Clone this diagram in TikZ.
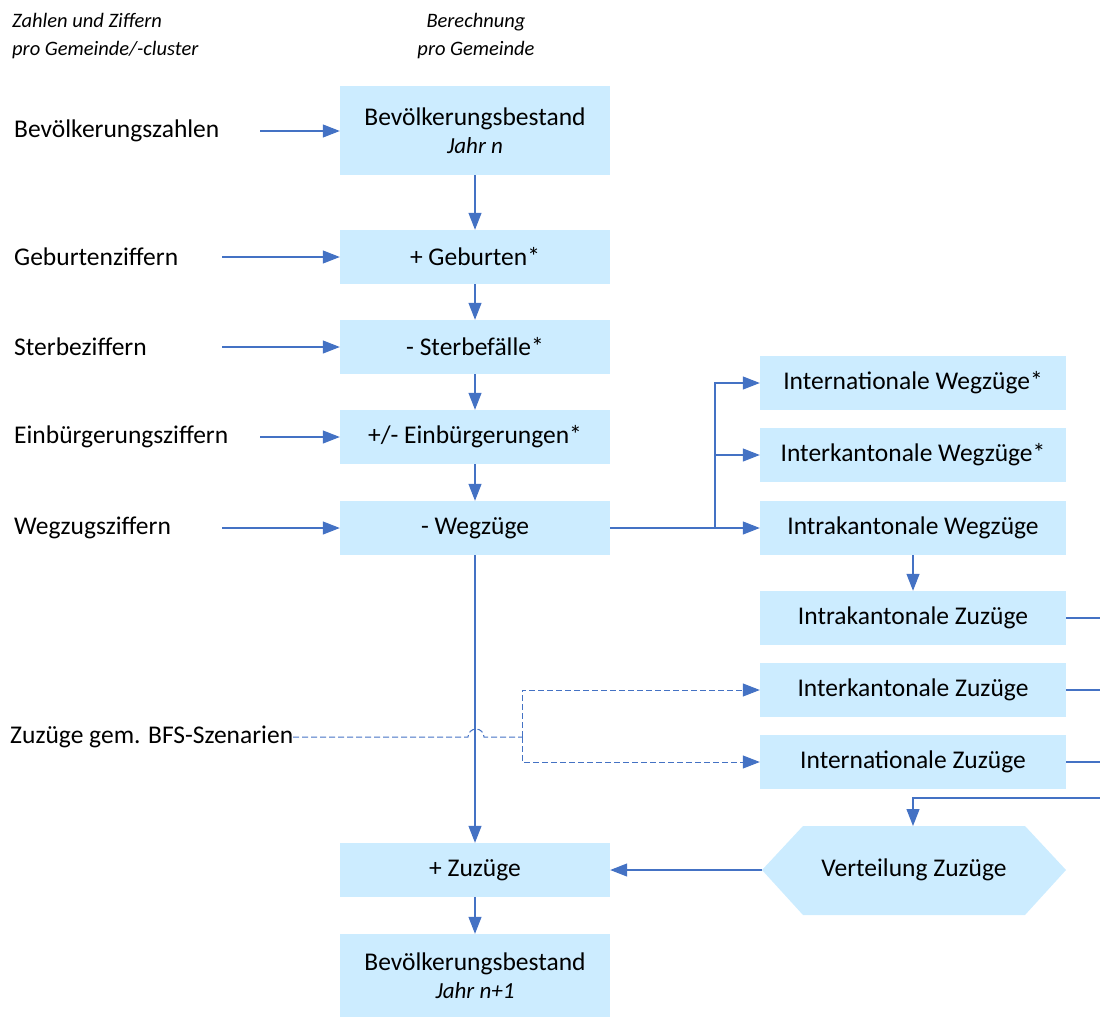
\documentclass[tikz,border=0pt]{standalone}
\usepackage{fontspec}
\setmainfont{Carlito}
\usetikzlibrary{arrows.meta}
\definecolor{boxblue}{HTML}{CCECFF}
\definecolor{lineblue}{HTML}{4472C4}
\newcommand\jahrfont{\fontsize{23}{25}\selectfont\itshape}
\begin{document}
\begin{tikzpicture}[x=1pt,y=-1pt,
  txt/.style={font=\fontsize{25.5}{29}\selectfont},
  box/.style={txt, fill=boxblue, minimum width=270pt, minimum height=54pt, inner sep=0pt, align=center},
  rbox/.style={box, minimum width=306pt},
  lab/.style={txt, anchor=west, inner sep=0pt},
  head/.style={font=\fontsize{20.5}{28}\selectfont\itshape, inner sep=0pt, anchor=north},
  line/.style={draw=lineblue, line width=1.2pt},
  conn/.style={line, -{Triangle[length=17pt,width=13pt]}},
  dline/.style={line, line width=1pt, dash pattern=on 6pt off 3pt},
  dconn/.style={dline, -{Triangle[length=17pt,width=13pt]}}
]
\useasboundingbox (0,0) rectangle (1100,1017);

% headers
\node[head, align=left, anchor=north west] (h1) at (12,13) {Zahlen und Ziffern\\pro Gemeinde/-cluster};
\node[head, align=center] (h2) at (476,13) {Berechnung\\pro Gemeinde};

% central column
\node[box, minimum height=89pt] (b0) at (475,130.5) {Bevölkerungsbestand\\[-1pt]{\jahrfont Jahr n}};
\node[box] (geb) at (475,257) {+ Geburten*};
\node[box] (ster) at (475,347) {- Sterbefälle*};
\node[box] (einb) at (475,437) {+/- Einbürgerungen*};
\node[box] (weg) at (475,528) {- Wegzüge};
\node[box] (zuz) at (475,870) {+ Zuzüge};
\node[box, minimum height=83pt] (b1) at (475,975.5) {Bevölkerungsbestand\\[-1pt]{\jahrfont Jahr n+1}};

% right column
\node[rbox] (iw) at (913,383) {Internationale Wegzüge*};
\node[rbox] (kw) at (913,455) {Interkantonale Wegzüge*};
\node[rbox] (aw) at (913,528) {Intrakantonale Wegzüge};
\node[rbox] (az) at (913,618) {Intrakantonale Zuzüge};
\node[rbox] (kz) at (913,690) {Interkantonale Zuzüge};
\node[rbox] (nz) at (913,762) {Internationale Zuzüge};
\fill[boxblue] (762,870) -- (803,826) -- (1025,826) -- (1066,870) -- (1025,915) -- (803,915) -- cycle;
\node[txt] (vz) at (914,870) {Verteilung Zuzüge};
\coordinate (hexW) at (762,870);
\coordinate (hexN) at (913,826);

% left labels
\node[lab] (l1) at (14,131) {Bevölkerungszahlen};
\node[lab] (l2) at (14,257) {Geburtenziffern};
\node[lab] (l3) at (14,347) {Sterbeziffern};
\node[lab] (l4) at (14,437) {Einbürgerungsziffern};
\node[lab] (l5) at (14,528) {Wegzugsziffern};
\node[lab] (l6) at (10,737) {Zuzüge gem. BFS-Szenarien};

\coordinate (s1) at (260,131);
\coordinate (s2) at (222,257);
\coordinate (s3) at (222,347);
\coordinate (s4) at (260,437);
\coordinate (s5) at (222,528);
\draw[conn] (s1) -- (b0.west |- s1);
\draw[conn] (s2) -- (geb.west);
\draw[conn] (s3) -- (ster.west);
\draw[conn] (s4) -- (einb.west);
\draw[conn] (s5) -- (weg.west);

% vertical flow
\draw[conn] (b0.south) -- (geb.north);
\draw[conn] (geb.south) -- (ster.north);
\draw[conn] (ster.south) -- (einb.north);
\draw[conn] (einb.south) -- (weg.north);
\draw[conn] (weg.south) -- (zuz.north);
\draw[conn] (zuz.south) -- (b1.north);

% Wegzuege branching
\coordinate (br) at (715,528);
\draw[line] (weg.east) -- (br);
\draw[conn] (br) |- (iw.west);
\draw[conn] (br) |- (kw.west);
\draw[conn] (br) -- (aw.west);
\draw[conn] (aw.south) -- (az.north);

% outgoing lines at right edge
\coordinate (e1) at (1100,618);
\coordinate (e2) at (1100,690);
\coordinate (e3) at (1100,762);
\coordinate (e4) at (1100,798);
\draw[line] (az.east) -- (e1);
\draw[line] (kz.east) -- (e2);
\draw[line] (nz.east) -- (e3);
\draw[conn] (e4) -| (hexN);
\draw[conn] (hexW) -- (zuz.east);

% dashed Zuzuege
\coordinate (zs) at (293,737);
\coordinate (dj) at (522,737);
\draw[dline] (zs) -- (468,737) arc (180:360:8) -- (dj);
\draw[dconn] (dj) |- (kz.west);
\draw[dconn] (dj) |- (nz.west);
\end{tikzpicture}
\end{document}
